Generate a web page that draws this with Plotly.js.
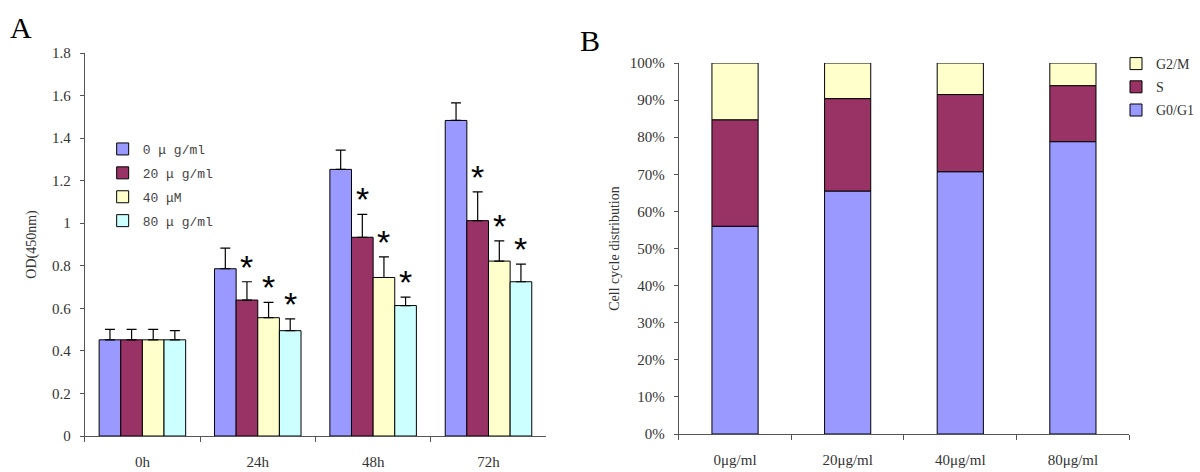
<!DOCTYPE html>
<html><head><meta charset="utf-8">
<script src="https://cdn.plot.ly/plotly-3.0.1.min.js"></script>
<style>html,body{margin:0;padding:0;background:#fff}#chart{width:1200px;height:472px}</style>
</head><body><div id="chart"></div>
<script>
// ---- Panel A data ----
const timePoints = ['0h', '24h', '48h', '72h'];
const doseNamesA = ['0 μ g/ml', '20 μ g/ml', '40 μM', '80 μ g/ml'];
const od0  = [0.452, 0.786, 1.253, 1.483];
const od20 = [0.452, 0.639, 0.934, 1.012];
const od40 = [0.452, 0.556, 0.745, 0.822];
const od80 = [0.452, 0.495, 0.613, 0.725];
const sd0  = [0.049, 0.097, 0.091, 0.083];
const sd20 = [0.049, 0.086, 0.108, 0.135];
const sd40 = [0.049, 0.072, 0.097, 0.095];
const sd80 = [0.043, 0.055, 0.040, 0.083];
const sig0  = [false, false, false, false];
const sig20 = [false, true, true, true];
const sig40 = [false, true, true, true];
const sig80 = [false, true, true, true];

// ---- Panel B data ----
const dosesB = ['0μg/ml', '20μg/ml', '40μg/ml', '80μg/ml'];
const phaseG0G1 = [56.0, 65.5, 70.7, 78.8];
const phaseS    = [28.7, 24.9, 20.8, 15.1];
const phaseG2M  = [15.3, 9.6, 8.5, 6.1];

const colors = ['#9999FF', '#993366', '#FFFFCC', '#CCFFFF'];
const serif = 'Liberation Serif, Times New Roman, serif';
const bargapA = 0.25;
const barWidthB = 0.41;

const odSeries = [od0, od20, od40, od80];
const sdSeries = [sd0, sd20, sd40, sd80];
const sigSeries = [sig0, sig20, sig40, sig80];

const traces = [];
odSeries.forEach((vals, j) => {
  traces.push({
    type: 'bar', x: timePoints, y: vals, name: doseNamesA[j],
    xaxis: 'x', yaxis: 'y', legend: 'legend', legendgroup: 'a' + j, offsetgroup: 'a' + j,
    marker: {color: colors[j], line: {color: '#000', width: 1}},
    error_y: {type: 'data', array: sdSeries[j], arrayminus: vals.map(() => 0), symmetric: false,
              color: '#000', thickness: 1.2, width: 5},
    hoverinfo: 'skip'
  });
});

// stacked panel B: each phase starts where the previous ones end
const phases = [
  {name: 'G0/G1', vals: phaseG0G1, color: colors[0], rank: 3},
  {name: 'S', vals: phaseS, color: colors[1], rank: 2},
  {name: 'G2/M', vals: phaseG2M, color: colors[2], rank: 1}
];
let cum = dosesB.map(() => 0);
phases.forEach((p, k) => {
  const base = cum.slice();
  traces.push({
    type: 'bar', x: dosesB, y: p.vals, base: base, name: p.name,
    xaxis: 'x2', yaxis: 'y2', legend: 'legend2', legendgroup: 'b' + k, legendrank: p.rank,
    offsetgroup: 'b', width: barWidthB,
    marker: {color: p.color, line: {color: '#000', width: 1}},
    hoverinfo: 'skip'
  });
  cum = cum.map((c, i) => c + p.vals[i]);
});

const annotations = [];
const nSer = odSeries.length;
const bw = (1 - bargapA) / nSer;
sigSeries.forEach((flags, j) => {
  flags.forEach((f, i) => {
    if (!f) return;
    annotations.push({
      xref: 'x', yref: 'y', x: i + (j - (nSer - 1) / 2) * bw, y: odSeries[j][i] + sdSeries[j][i],
      text: '*', showarrow: false, yanchor: 'bottom', xanchor: 'center', yshift: -6,
      font: {family: 'Liberation Sans, Arial, sans-serif', size: 34, color: '#000'}
    });
  });
});
annotations.push({xref: 'paper', yref: 'paper', x: 21 / 1200, y: 1 - 28 / 472, text: 'A', showarrow: false,
  xanchor: 'center', yanchor: 'middle', font: {family: serif, size: 30, color: '#000'}});
annotations.push({xref: 'paper', yref: 'paper', x: 592 / 1200, y: 1 - 41 / 472, text: 'B', showarrow: false,
  xanchor: 'center', yanchor: 'middle', font: {family: serif, size: 30, color: '#000'}});

const tickFont = {family: serif, size: 15, color: '#333'};
const layout = {
  width: 1200, height: 472,
  margin: {l: 0, r: 0, t: 0, b: 0},
  paper_bgcolor: '#fff', plot_bgcolor: '#fff',
  barmode: 'group', bargap: bargapA, bargroupgap: 0,
  showlegend: true,
  xaxis: {domain: [85 / 1200, 548 / 1200], anchor: 'y', type: 'category',
    showline: true, linecolor: '#555', linewidth: 1, ticks: 'outside', tickson: 'boundaries',
    ticklen: 5, tickcolor: '#555', tickfont: tickFont, showgrid: false, zeroline: false, ticklabelstandoff: 12},
  yaxis: {domain: [(472 - 436) / 472, (472 - 53) / 472], anchor: 'x', range: [0, 1.8],
    tickvals: [0, 0.2, 0.4, 0.6, 0.8, 1, 1.2, 1.4, 1.6, 1.8],
    ticktext: ['0', '0.2', '0.4', '0.6', '0.8', '1', '1.2', '1.4', '1.6', '1.8'],
    showline: true, linecolor: '#555', linewidth: 1, ticks: 'outside', ticklen: 4, tickcolor: '#555',
    tickfont: tickFont, showgrid: false, zeroline: false, ticklabelstandoff: 6,
    title: {text: 'OD(450nm)', font: {family: serif, size: 14, color: '#333'}, standoff: 12}},
  xaxis2: {domain: [681 / 1200, 1133 / 1200], anchor: 'y2', type: 'category',
    showline: true, linecolor: '#555', linewidth: 1, ticks: 'outside', tickson: 'boundaries',
    ticklen: 5, tickcolor: '#555', tickfont: tickFont, showgrid: false, zeroline: false, ticklabelstandoff: 12},
  yaxis2: {domain: [(472 - 434) / 472, (472 - 63) / 472], anchor: 'x2', range: [0, 100], dtick: 10,
    ticksuffix: '%', showline: true, linecolor: '#555', linewidth: 1, ticks: 'outside', ticklen: 4,
    tickcolor: '#555', tickfont: tickFont, showgrid: false, zeroline: false, ticklabelstandoff: 6,
    title: {text: 'Cell cycle distribution', font: {family: serif, size: 14, color: '#333'}, standoff: 6}},
  legend: {x: 103 / 1200, y: 1 - 134 / 472, xanchor: 'left', yanchor: 'top', bgcolor: 'rgba(0,0,0,0)',
    traceorder: 'grouped', tracegroupgap: 4, itemwidth: 30,
    font: {family: 'Liberation Mono, monospace', size: 13, color: '#444'}},
  legend2: {x: 1120 / 1200, y: 1 - 48 / 472, xanchor: 'left', yanchor: 'top', bgcolor: 'rgba(0,0,0,0)',
    traceorder: 'grouped', tracegroupgap: 2, itemwidth: 30,
    font: {family: serif, size: 14, color: '#333'}},
  annotations: annotations
};

Plotly.newPlot('chart', traces, layout, {displayModeBar: false, staticPlot: true});
</script>
</body></html>
